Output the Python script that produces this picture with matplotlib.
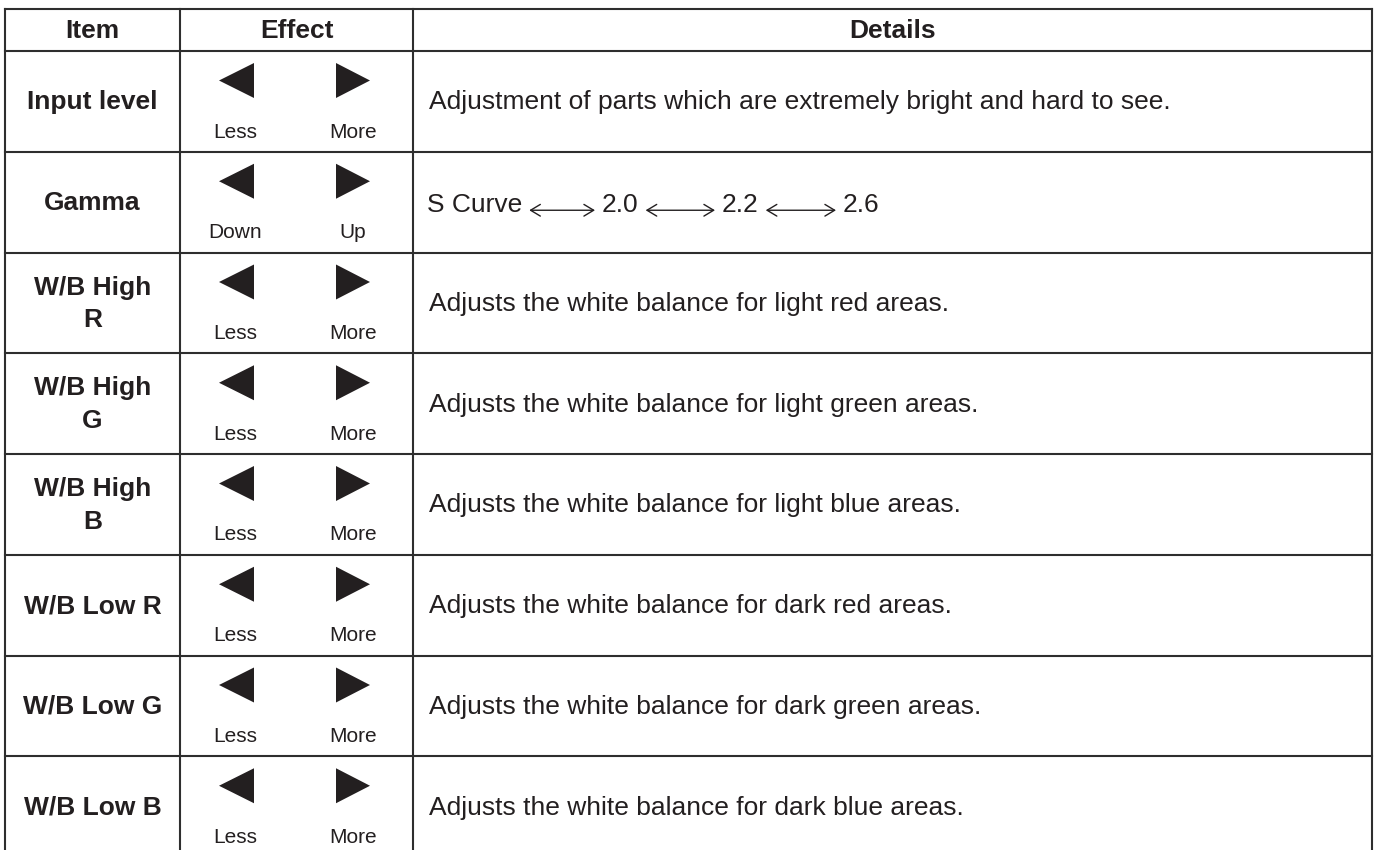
import matplotlib
matplotlib.use('Agg')
import matplotlib.pyplot as plt
from matplotlib.patches import Polygon

plt.rcParams['font.family'] = ['Liberation Sans', 'DejaVu Sans']

# table content
headers = ['Item', 'Effect', 'Details']
items = ['Input level', 'Gamma', 'W/B High\nR', 'W/B High\nG', 'W/B High\nB',
         'W/B Low R', 'W/B Low G', 'W/B Low B']
low_labels = ['Less', 'Down', 'Less', 'Less', 'Less', 'Less', 'Less', 'Less']
high_labels = ['More', 'Up', 'More', 'More', 'More', 'More', 'More', 'More']
details = [
    'Adjustment of parts which are extremely bright and hard to see.',
    None,
    'Adjusts the white balance for light red areas.',
    'Adjusts the white balance for light green areas.',
    'Adjusts the white balance for light blue areas.',
    'Adjusts the white balance for dark red areas.',
    'Adjusts the white balance for dark green areas.',
    'Adjusts the white balance for dark blue areas.',
]
gamma_steps = ['S Curve', '2.0', '2.2', '2.6']

# layout (pixels)
W, H = 1374, 850
col_x = [5, 180, 413, 1372]
top, header_h, row_h = 9, 42, 100.75
gamma_x = [427, 602, 722, 843]   # where each gamma value starts
ink = '#231f20'
line_c = '#2e2e2e'

fig = plt.figure(figsize=(W / 100, H / 100), dpi=100)
ax = fig.add_axes([0, 0, 1, 1])
ax.set_xlim(0, W)
ax.set_ylim(H, 0)
ax.axis('off')

n = len(items)
row_y = [top + header_h + i * row_h for i in range(n + 1)]
bottom = row_y[-1]

# grid lines
for y in [top] + row_y:
    ax.plot([col_x[0], col_x[-1]], [y, y], color=line_c, lw=1.5, solid_capstyle='projecting')
for x in col_x:
    ax.plot([x, x], [top, bottom], color=line_c, lw=1.5, solid_capstyle='projecting')

big = 19
small = 15

# header
for i, h in enumerate(headers):
    ax.text((col_x[i] + col_x[i + 1]) / 2, top + header_h / 2 + 1, h, ha='center', va='center',
            fontsize=big, fontweight='bold', color=ink)

renderer = fig.canvas.get_renderer()
eff_x0 = col_x[1]
for i in range(n):
    y0 = row_y[i]
    yc = y0 + row_h / 2
    ax.text((col_x[0] + col_x[1]) / 2, yc + 1, items[i], ha='center', va='center',
            fontsize=big, fontweight='bold', color=ink, linespacing=1.45)

    # triangles
    ty = y0 + 29.5
    left = Polygon([(eff_x0 + 74, ty - 17.5), (eff_x0 + 74, ty + 17.5), (eff_x0 + 39, ty)],
                   closed=True, color=ink, lw=0)
    right = Polygon([(eff_x0 + 156, ty - 17.5), (eff_x0 + 156, ty + 17.5), (eff_x0 + 190, ty)],
                    closed=True, color=ink, lw=0)
    ax.add_patch(left)
    ax.add_patch(right)
    ax.text(eff_x0 + 55, y0 + 86.5, low_labels[i], ha='center', va='baseline',
            fontsize=small, color=ink)
    ax.text(eff_x0 + 173, y0 + 86.5, high_labels[i], ha='center', va='baseline',
            fontsize=small, color=ink)

    if details[i] is not None:
        ax.text(col_x[2] + 16, yc + 1, details[i], ha='left', va='center',
                fontsize=big, color=ink)
    else:
        # gamma row: values joined by long double arrows
        base = y0 + 60
        for j, s in enumerate(gamma_steps):
            t = ax.text(gamma_x[j], base, s, ha='left', va='baseline', fontsize=big, color=ink)
            if j < len(gamma_steps) - 1:
                bb = t.get_window_extent(renderer=renderer)
                a0 = gamma_x[j] + bb.width + 7
                a1 = gamma_x[j + 1] - 7
                ax.annotate('', xy=(a1, base - 1.5), xytext=(a0, base - 1.5),
                            arrowprops=dict(arrowstyle='<->,head_length=0.7,head_width=0.42',
                                            color=ink, lw=1.0, shrinkA=0, shrinkB=0))

fig.savefig('out.png', dpi=100)
